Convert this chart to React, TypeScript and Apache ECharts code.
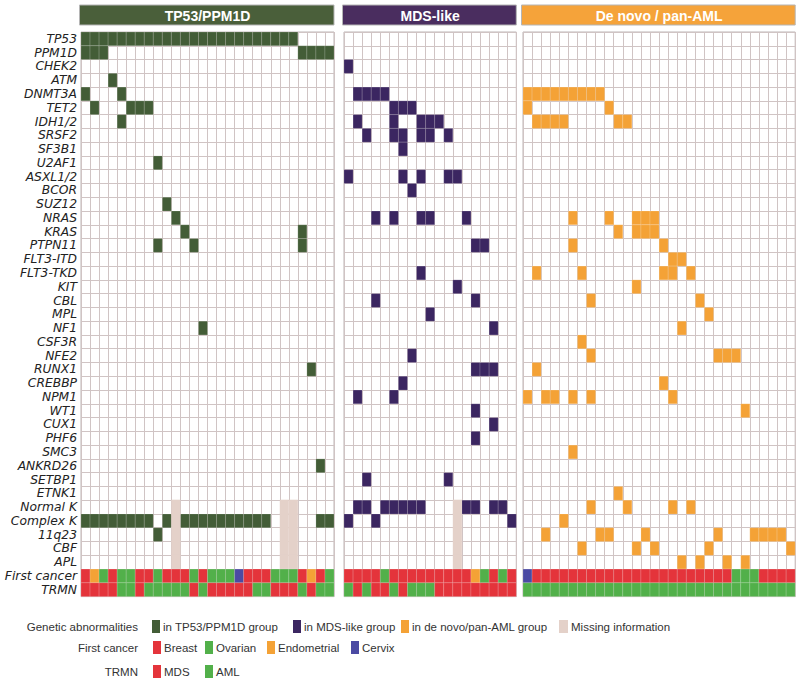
import React, { useEffect, useRef } from "react";
import * as echarts from "echarts";

// ---------- data ----------
const genes = [
  "TP53", "PPM1D", "CHEK2", "ATM", "DNMT3A", "TET2", "IDH1/2", "SRSF2", "SF3B1", "U2AF1",
  "ASXL1/2", "BCOR", "SUZ12", "NRAS", "KRAS", "PTPN11", "FLT3-ITD", "FLT3-TKD", "KIT", "CBL",
  "MPL", "NF1", "CSF3R", "NFE2", "RUNX1", "CREBBP", "NPM1", "WT1", "CUX1", "PHF6",
  "SMC3", "ANKRD26", "SETBP1", "ETNK1", "Normal K", "Complex K", "11q23", "CBF", "APL",
];
const annotationRows = ["First cancer", "TRMN"];
const missingRows = ["Normal K", "Complex K", "11q23", "CBF", "APL"];

// TP53/PPM1D group (28 patients): gene -> patient columns with abnormality
const tp53Events: [string, number[]][] = [
  ["TP53", [0, 1, 2, 3, 4, 5, 6, 7, 8, 9, 10, 11, 12, 13, 14, 15, 16, 17, 18, 19, 20, 21, 22, 23]],
  ["PPM1D", [0, 1, 2, 24, 25, 26, 27]],
  ["ATM", [3]],
  ["DNMT3A", [0, 4]],
  ["TET2", [1, 5, 6, 7]],
  ["IDH1/2", [4]],
  ["U2AF1", [8]],
  ["SUZ12", [9]],
  ["NRAS", [10]],
  ["KRAS", [11, 24]],
  ["PTPN11", [8, 12, 24]],
  ["NF1", [13]],
  ["RUNX1", [25]],
  ["ANKRD26", [26]],
  ["Complex K", [0, 1, 2, 3, 4, 5, 6, 7, 9, 11, 12, 13, 14, 15, 16, 17, 18, 19, 20, 26, 27]],
  ["11q23", [8]],
];
const tp53Missing = [10, 22, 23];
const tp53FirstCancer = ["B", "E", "O", "B", "O", "O", "B", "B", "O", "B", "B", "B", "O", "B", "O", "O", "O", "C", "B", "B", "B", "O", "O", "O", "B", "E", "B", "O"];
const tp53Trmn = ["MDS", "MDS", "MDS", "MDS", "AML", "AML", "MDS", "AML", "AML", "AML", "AML", "AML", "MDS", "AML", "MDS", "MDS", "MDS", "MDS", "MDS", "AML", "AML", "MDS", "MDS", "MDS", "AML", "MDS", "AML", "AML"];

// MDS-like group (19 patients)
const mdsEvents: [string, number[]][] = [
  ["CHEK2", [0]],
  ["DNMT3A", [1, 2, 3, 4]],
  ["TET2", [5, 6, 7]],
  ["IDH1/2", [1, 5, 8, 9, 10]],
  ["SRSF2", [2, 5, 6, 8, 9, 11]],
  ["SF3B1", [6]],
  ["ASXL1/2", [0, 6, 8, 11, 12]],
  ["BCOR", [7]],
  ["NRAS", [3, 5, 8, 9, 13]],
  ["PTPN11", [14, 15]],
  ["FLT3-TKD", [8]],
  ["KIT", [12]],
  ["CBL", [3, 14]],
  ["MPL", [9]],
  ["NF1", [16]],
  ["NFE2", [7]],
  ["RUNX1", [14, 15, 16]],
  ["CREBBP", [6]],
  ["NPM1", [1, 5]],
  ["WT1", [14]],
  ["CUX1", [16]],
  ["PHF6", [14]],
  ["SETBP1", [2, 11]],
  ["Normal K", [1, 2, 4, 5, 6, 7, 8, 13, 14, 16, 17]],
  ["Complex K", [0, 3, 18]],
];
const mdsMissing = [12];
const mdsFirstCancer = ["B", "B", "B", "B", "O", "B", "B", "B", "B", "B", "B", "B", "B", "B", "E", "O", "B", "O", "B"];
const mdsTrmn = ["AML", "MDS", "AML", "MDS", "MDS", "AML", "MDS", "AML", "AML", "AML", "MDS", "MDS", "MDS", "MDS", "MDS", "MDS", "MDS", "MDS", "MDS"];

// De novo / pan-AML group (30 patients)
const amlEvents: [string, number[]][] = [
  ["DNMT3A", [0, 1, 2, 3, 4, 5, 6, 7, 8]],
  ["TET2", [0, 9]],
  ["IDH1/2", [1, 2, 3, 4, 10, 11]],
  ["NRAS", [5, 9, 12, 13, 14]],
  ["KRAS", [10, 12, 13, 14]],
  ["PTPN11", [5, 15]],
  ["FLT3-ITD", [16, 17]],
  ["FLT3-TKD", [1, 6, 15, 16, 18]],
  ["KIT", [12]],
  ["CBL", [7, 19]],
  ["MPL", [20]],
  ["NF1", [17]],
  ["CSF3R", [6]],
  ["NFE2", [7, 21, 22, 23]],
  ["RUNX1", [1]],
  ["CREBBP", [15]],
  ["NPM1", [0, 2, 3, 5, 7, 16]],
  ["WT1", [24]],
  ["SMC3", [5]],
  ["ETNK1", [10]],
  ["Normal K", [7, 11, 16, 18]],
  ["Complex K", [4]],
  ["11q23", [2, 8, 9, 13, 21, 25, 26, 27, 28]],
  ["CBF", [6, 12, 14, 20, 29]],
  ["APL", [17, 19, 22, 24]],
];
const amlMissing: number[] = [];
const amlFirstCancer = ["C", "B", "B", "B", "B", "B", "B", "B", "B", "B", "B", "B", "B", "B", "B", "B", "B", "B", "B", "B", "B", "B", "B", "O", "O", "O", "B", "B", "B", "B"];
const amlTrmn = ["AML", "AML", "AML", "AML", "AML", "AML", "AML", "AML", "AML", "AML", "AML", "AML", "AML", "AML", "AML", "AML", "AML", "AML", "AML", "AML", "AML", "AML", "AML", "AML", "AML", "AML", "AML", "AML", "AML", "AML"];

const groupTitles = ["TP53/PPM1D", "MDS-like", "De novo / pan-AML"];

// ---------- styles ----------
const COLORS: Record<string, string> = {
  tp53: "#435d37",
  mds: "#3b2661",
  aml: "#f4a236",
  missing: "#e4d1c9",
  B: "#e4343b",
  O: "#52b04a",
  E: "#f4a236",
  C: "#4b4aa3",
  MDS: "#e4343b",
  AML: "#52b04a",
};
const COLOR_KEYS = Object.keys(COLORS);
const HEADER_COLORS = ["#4a5f3a", "#4a2d5f", "#f5a33a"];
const GRID_LINE = "#d0c4c4";

const ROWS = [...genes, ...annotationRows];

type Panel = {
  key: string;
  n: number;
  events: [string, number[]][];
  missing: number[];
  fc: string[];
  trmn: string[];
  left: number;
  width: number;
};

const panels: Panel[] = [
  { key: "tp53", n: 28, events: tp53Events, missing: tp53Missing, fc: tp53FirstCancer, trmn: tp53Trmn, left: 81, width: 253 },
  { key: "mds", n: 19, events: mdsEvents, missing: mdsMissing, fc: mdsFirstCancer, trmn: mdsTrmn, left: 344, width: 172.3 },
  { key: "aml", n: 30, events: amlEvents, missing: amlMissing, fc: amlFirstCancer, trmn: amlTrmn, left: 523, width: 272.2 },
];

const GRID_TOP = 32;
const GRID_H = 564.6;

function buildCells(p: Panel): number[][] {
  const out: number[][] = [];
  const k = COLOR_KEYS.indexOf(p.key);
  p.events.forEach(([g, cols]) => {
    const r = ROWS.indexOf(g);
    cols.forEach((c) => out.push([c, r, k]));
  });
  const mk = COLOR_KEYS.indexOf("missing");
  p.missing.forEach((c) => missingRows.forEach((g) => out.push([c, ROWS.indexOf(g), mk])));
  const fr = ROWS.indexOf("First cancer");
  p.fc.forEach((v, c) => out.push([c, fr, COLOR_KEYS.indexOf(v)]));
  const tr = ROWS.indexOf("TRMN");
  p.trmn.forEach((v, c) => out.push([c, tr, COLOR_KEYS.indexOf(v)]));
  return out;
}

const legendRows: { label: string; y: number; items: { text: string; color: string; x: number; w?: number }[] }[] = [
  {
    label: "Genetic abnormalities",
    y: 626.5,
    items: [
      { text: "in TP53/PPM1D group", color: COLORS.tp53, x: 152 },
      { text: "in MDS-like group", color: COLORS.mds, x: 293 },
      { text: "in de novo/pan-AML group", color: COLORS.aml, x: 401 },
      { text: "Missing information", color: COLORS.missing, x: 559, w: 9 },
    ],
  },
  {
    label: "First cancer",
    y: 647.5,
    items: [
      { text: "Breast", color: COLORS.B, x: 153 },
      { text: "Ovarian", color: COLORS.O, x: 205 },
      { text: "Endometrial", color: COLORS.E, x: 267 },
      { text: "Cervix", color: COLORS.C, x: 351 },
    ],
  },
  {
    label: "TRMN",
    y: 671.5,
    items: [
      { text: "MDS", color: COLORS.MDS, x: 153 },
      { text: "AML", color: COLORS.AML, x: 205 },
    ],
  },
];

export default function App() {
  const ref = useRef<HTMLDivElement>(null);
  useEffect(() => {
    document.body.style.margin = "0";
    if (!ref.current) return;
    const chart = echarts.init(ref.current, undefined, { renderer: "svg" });

    const graphics: any[] = [];
    panels.forEach((p, i) => {
      graphics.push({
        type: "rect",
        shape: { x: p.left - 1.5, y: 5, width: p.width + 1.5, height: 20 },
        style: { fill: HEADER_COLORS[i], stroke: "#b5b5b5", lineWidth: 1 },
      });
      graphics.push({
        type: "text",
        x: p.left + p.width / 2,
        y: 15.5,
        style: {
          text: groupTitles[i],
          fill: "#ffffff",
          font: "bold 14px 'Liberation Sans', Arial, sans-serif",
          textAlign: "center",
          textVerticalAlign: "middle",
        },
      });
    });
    legendRows.forEach((row) => {
      graphics.push({
        type: "text",
        x: 138,
        y: row.y,
        style: {
          text: row.label,
          fill: "#333",
          font: "11.5px 'Liberation Sans', Arial, sans-serif",
          textAlign: "right",
          textVerticalAlign: "middle",
        },
      });
      row.items.forEach((it) => {
        const w = it.w ?? 8;
        graphics.push({
          type: "rect",
          shape: { x: it.x, y: row.y - 6.5, width: w, height: 13 },
          style: { fill: it.color },
        });
        graphics.push({
          type: "text",
          x: it.x + w + 3,
          y: row.y,
          style: {
            text: it.text,
            fill: "#333",
            font: "11.5px 'Liberation Sans', Arial, sans-serif",
            textAlign: "left",
            textVerticalAlign: "middle",
          },
        });
      });
    });

    const missingIdx = COLOR_KEYS.indexOf("missing");

    chart.setOption({
      animation: false,
      backgroundColor: "#ffffff",
      grid: panels.map((p) => ({
        left: p.left,
        top: GRID_TOP,
        width: p.width,
        height: GRID_H,
        show: true,
        borderColor: "#bdb5b5",
        borderWidth: 1,
        backgroundColor: "#ffffff",
        containLabel: false,
      })),
      xAxis: panels.map((p, i) => ({
        type: "category",
        gridIndex: i,
        data: Array.from({ length: p.n }, (_, j) => `${p.key}-${j + 1}`),
        boundaryGap: true,
        axisLine: { show: false },
        axisTick: { show: false },
        axisLabel: { show: false },
        splitLine: { show: true, interval: 0, lineStyle: { color: GRID_LINE, width: 1 } },
      })),
      yAxis: panels.map((p, i) => ({
        type: "category",
        gridIndex: i,
        data: ROWS,
        inverse: true,
        boundaryGap: true,
        axisLine: { show: false },
        axisTick: { show: false },
        axisLabel: {
          show: i === 0,
          interval: 0,
          fontStyle: "italic",
          fontFamily: "'DejaVu Sans', sans-serif",
          fontSize: 12.3,
          color: "#222",
          margin: 4,
        },
        splitLine: { show: true, interval: 0, lineStyle: { color: GRID_LINE, width: 1 } },
      })),
      series: panels.map((p, i) => ({
        type: "custom",
        xAxisIndex: i,
        yAxisIndex: i,
        data: buildCells(p),
        encode: { x: 0, y: 1 },
        renderItem: (params: any, api: any) => {
          const c = api.value(0);
          const r = api.value(1);
          const k = api.value(2);
          const pt = api.coord([c, r]);
          const s = api.size([1, 1]);
          const isMissing = k === missingIdx;
          const iy = isMissing ? -0.5 : 0;
          return {
            type: "rect",
            shape: {
              x: pt[0] - s[0] / 2,
              y: pt[1] - s[1] / 2 + iy,
              width: s[0],
              height: s[1] - 2 * iy,
            },
            style: isMissing
              ? { fill: COLORS[COLOR_KEYS[k]] }
              : { fill: COLORS[COLOR_KEYS[k]], stroke: "rgba(255,255,255,0.22)", lineWidth: 0.7 },
          };
        },
      })),
      graphic: graphics,
    });

    return () => chart.dispose();
  }, []);

  return <div ref={ref} style={{ width: 800, height: 679 }} />;
}
